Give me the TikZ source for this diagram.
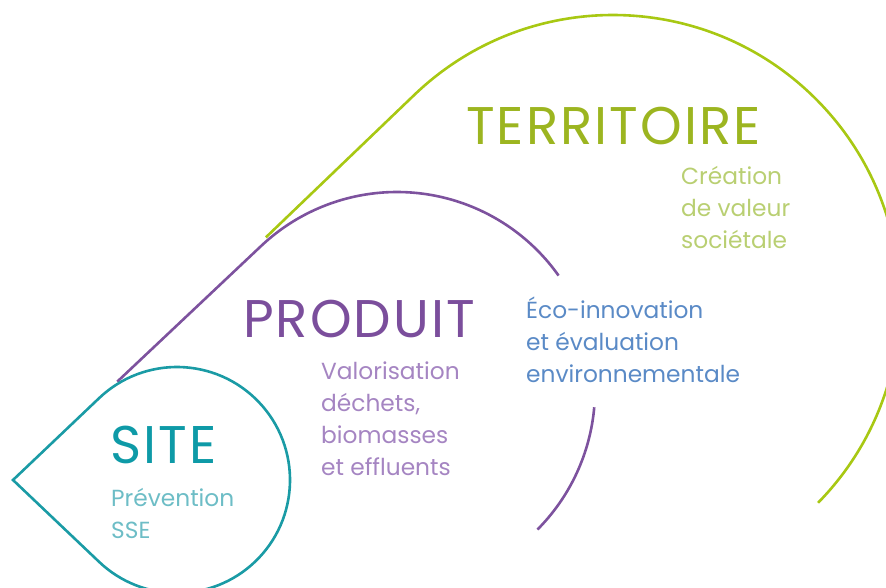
\documentclass[tikz,border=0pt]{standalone}
\usepackage{fontspec}
\setmainfont{Poppins}
\newfontfamily\titlefont[LetterSpace=3.9]{Poppins}
\usetikzlibrary{calc}
\definecolor{tealL}{HTML}{1A9BA5}
\definecolor{tealT}{HTML}{0E9AA7}
\definecolor{tealS}{HTML}{6DBDC6}
\definecolor{purL}{HTML}{7D529E}
\definecolor{purT}{HTML}{7B4E9C}
\definecolor{purS}{HTML}{A585C2}
\definecolor{bluS}{HTML}{5A8AC6}
\definecolor{grnL}{HTML}{A8C813}
\definecolor{grnT}{HTML}{9CB520}
\definecolor{grnS}{HTML}{B9CF72}
\begin{document}
\begin{tikzpicture}[x=1pt,y=-1pt,
  ring/.style={line width=2.6pt},
  title/.style={inner sep=0pt,anchor=base west,font=\titlefont\fontsize{53}{56}\selectfont},
  sub/.style={inner sep=0pt,anchor=base west,align=left,font=\fontsize{23.3}{32}\selectfont}]
\useasboundingbox (0,0) rectangle (886,588);
\clip (0,0) rectangle (886,588);
\coordinate (T) at (13,480);
% centres
\coordinate (Cg) at (613,302);
\coordinate (Cp) at (397,390);
\coordinate (Cs) at (177,480);
% tangent points
\coordinate (G1) at ($(Cg)+(133.8:287 and -287)$);
\coordinate (P1) at ($(Cp)+(133.3:198 and -198)$);
\coordinate (S1) at ($(Cs)+(133.6:113 and -113)$);
% green territoire
\draw[ring,grnL] ($(T)!0.63!(G1)$) -- (G1) arc[start angle=133.8,end angle=-44.4,x radius=287,y radius=-287];
% purple produit
\draw[ring,purL] ($(T)!0.42!(P1)$) -- (P1) arc[start angle=133.3,end angle=35.3,x radius=198,y radius=-198];
\draw[ring,purL] ($(Cp)+(-5:198 and -198)$) arc[start angle=-5,end angle=-44.8,x radius=198,y radius=-198];
% teal site
\draw[ring,tealL] (T) -- (S1) arc[start angle=133.6,end angle=-133.6,x radius=113,y radius=-113] -- cycle;
% texts
\node[title,text=grnT] (terr) at (466,145) {TERRITOIRE};
\node[sub,text=grnS] (terrs) at (681,248) {Création\\de valeur\\sociétale};
\node[title,text=purT] (prod) at (243,337) {PRODUIT};
\node[sub,text=purS] (prods) at (321,475) {Valorisation\\déchets,\\biomasses\\et effluents};
\node[sub,text=bluS] (eco) at (526,382) {Éco-innovation\\et évaluation\\environnementale};
\node[title,text=tealT] (site) at (110,463) {SITE};
\node[sub,text=tealS] (sites) at (111,538) {Prévention\\SSE};
\end{tikzpicture}
\end{document}
